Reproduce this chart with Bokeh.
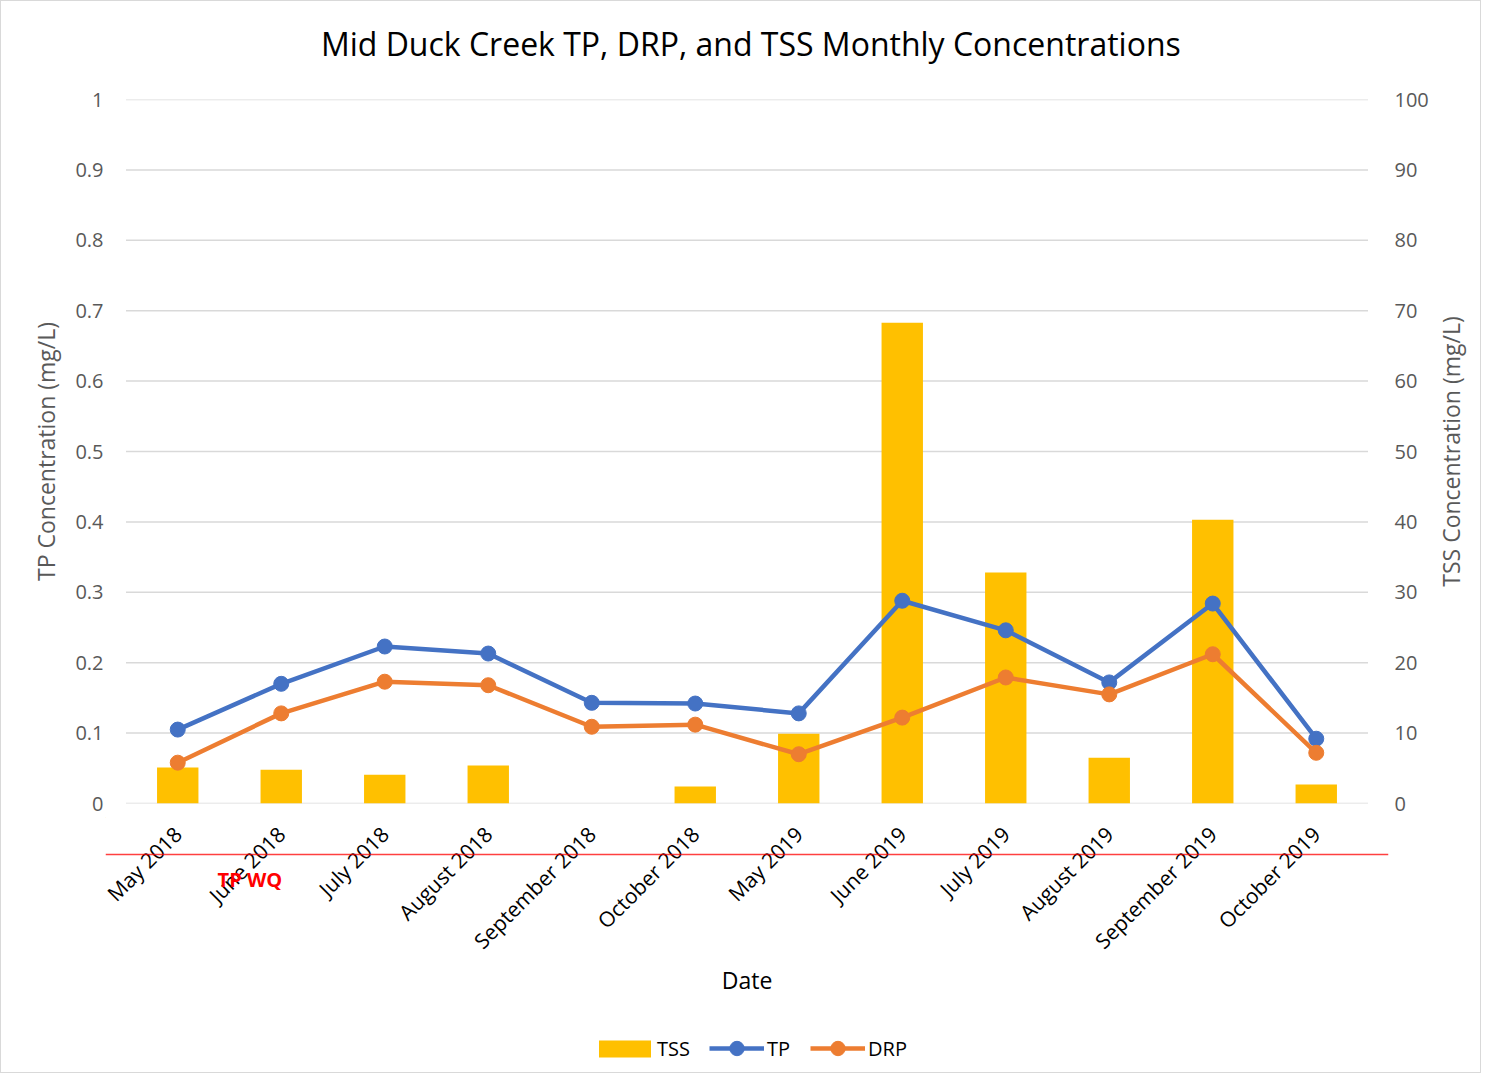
from bokeh.plotting import figure
from bokeh.models import (Range1d, LinearAxis, FixedTicker, CustomJSTickFormatter, Legend,
                          LegendItem, Span, Label, ColumnDataSource, FactorRange)
from bokeh.layouts import column, row
from bokeh.core.properties import value
from bokeh.embed import file_html
from bokeh.resources import INLINE
import math

months = ["May 2018", "June 2018", "July 2018", "August 2018", "September 2018", "October 2018",
          "May 2019", "June 2019", "July 2019", "August 2019", "September 2019", "October 2019"]
tp = [0.105, 0.170, 0.223, 0.213, 0.143, 0.142, 0.128, 0.288, 0.246, 0.172, 0.284, 0.092]
drp = [0.058, 0.128, 0.173, 0.168, 0.109, 0.112, 0.070, 0.122, 0.179, 0.155, 0.212, 0.072]
tss = [5.1, 4.8, 4.1, 5.4, 0.0, 2.4, 9.9, 68.3, 32.8, 6.5, 40.3, 2.7]
left_ticks = [0, 0.1, 0.2, 0.3, 0.4, 0.5, 0.6, 0.7, 0.8, 0.9, 1.0]
right_ticks = [0, 10, 20, 30, 40, 50, 60, 70, 80, 90, 100]
tp_wq_level = -0.0725   # red "TP WQ" line, drawn below the axis in the original

FONT = "Open Sans"
C_TSS, C_TP, C_DRP, C_GRID = "#FFC000", "#4472C4", "#ED7D31", "#D9D9D9"
src = ColumnDataSource(dict(month=months, tp=tp, drp=drp, tss=tss))
# a little padding so the red line and the first/last category labels fit in the frames
xr = FactorRange(*months, range_padding=0.198, range_padding_units="absolute")
ML, MR = 104, 42

# ---------------- title strip ----------------
t = figure(width=1430, height=84, x_range=Range1d(0, 1), y_range=Range1d(0, 1),
           output_backend="svg", toolbar_location=None, x_axis_location=None, y_axis_location=None,
           min_border_left=ML, min_border_right=MR, min_border_top=0, min_border_bottom=0)
t.outline_line_color = None
t.grid.visible = False
t.add_layout(Label(x=0.503, y=0.5, text="Mid Duck Creek TP, DRP, and TSS Monthly Concentrations",
                   text_font=FONT, text_font_size="32px", text_color="#000000",
                   text_align="center", text_baseline="middle"))

# ---------------- main plot ----------------
p = figure(width=1430, height=732, x_range=xr, y_range=Range1d(0, 1),
           output_backend="svg", toolbar_location=None, x_axis_location=None,
           min_border_left=ML, min_border_right=MR, min_border_top=14, min_border_bottom=14)
p.outline_line_color = None
p.extra_y_ranges = {"tss": Range1d(0, 100)}
p.grid.visible = False

# horizontal gridlines over the category span only
p.segment(x0=[0] * len(left_ticks), x1=[len(months)] * len(left_ticks), y0=left_ticks, y1=left_ticks,
          line_color=C_GRID, line_width=1.5)

p.vbar(x="month", top="tss", width=0.4, source=src, y_range_name="tss",
       fill_color=C_TSS, line_color=None)
p.line(x="month", y="tp", source=src, line_color=C_TP, line_width=4.5)
p.scatter(x="month", y="tp", source=src, size=15, fill_color=C_TP, line_color=C_TP)
p.line(x="month", y="drp", source=src, line_color=C_DRP, line_width=4.5)
p.scatter(x="month", y="drp", source=src, size=15, fill_color=C_DRP, line_color=C_DRP)

ya = p.yaxis[0]
ya.ticker = FixedTicker(ticks=left_ticks)
ya.formatter = CustomJSTickFormatter(code="return String(Math.round(tick*10)/10)")
ya.axis_label = "TP Concentration (mg/L)"

ra = LinearAxis(y_range_name="tss", ticker=FixedTicker(ticks=right_ticks))
p.add_layout(ra, "right")

for ax in (ya, ra):
    ax.axis_line_color = None
    ax.major_tick_line_color = None
    ax.minor_tick_line_color = None
    ax.major_tick_out = 0
    ax.minor_tick_out = 0
    ax.major_label_text_font = FONT
    ax.major_label_text_font_size = "20px"
    ax.major_label_text_color = "#595959"
ya.major_label_standoff = 2
ra.major_label_standoff = 6
ya.axis_label_text_font = FONT
ya.axis_label_text_font_size = "23px"
ya.axis_label_text_font_style = "normal"
ya.axis_label_text_color = "#595959"
ya.axis_label_standoff = 10

# ---------------- right strip: TSS axis title (reads bottom to top) ----------------
c = figure(width=49, height=1071, x_range=Range1d(0, 1), y_range=Range1d(0, 1),
           output_backend="svg", toolbar_location=None, x_axis_location=None, y_axis_location=None,
           min_border_left=0, min_border_right=0, min_border_top=98, min_border_bottom=269)
c.outline_line_color = None
c.grid.visible = False
c.add_layout(Label(x=0.4, y=0.5, text="TSS Concentration (mg/L)", angle=math.pi / 2,
                   text_font=FONT, text_font_size="23px", text_color="#595959",
                   text_align="center", text_baseline="middle"))

# ---------------- strip below: category labels, TP WQ line, axis title, legend ----------------
b = figure(width=1430, height=255, x_range=xr, y_range=Range1d(-0.3821, -0.0199),
           output_backend="svg", toolbar_location=None, x_axis_location=None, y_axis_location=None,
           min_border_left=ML, min_border_right=MR, min_border_top=0, min_border_bottom=0)
b.outline_line_color = None
b.grid.visible = False

b.text(x=months, y=[-0.038] * len(months), text=months, angle=math.pi / 4,
       text_align="right", text_baseline="middle", text_font=value(FONT),
       text_font_size="21px", text_color="#000000")

b.add_layout(Span(location=tp_wq_level, dimension="width", line_color="#FF0000",
                  line_alpha=0.75, line_width=1.5))
b.add_layout(Label(x=1.197, y=-0.108, text="TP WQ", text_color="#FF0000", text_font=FONT,
                   text_font_style="bold", text_font_size="20px", text_align="center",
                   text_baseline="middle"))
b.add_layout(Label(x=6.0, y=-0.2514, text="Date", text_color="#000000", text_font=FONT,
                   text_font_size="23px", text_align="center", text_baseline="middle"))

# legend keys: one point placed far outside this strip's visible area, so only the keys show
key = ColumnDataSource(dict(k=[-50.0], v=[5.0]))
lg_tss = b.vbar(x="k", top="v", bottom=4.0, width=0.4, source=key, fill_color=C_TSS, line_color=None)
lg_tp_l = b.line(x="k", y="v", source=key, line_color=C_TP, line_width=4.5)
lg_tp_s = b.scatter(x="k", y="v", source=key, size=15, fill_color=C_TP, line_color=C_TP)
lg_drp_l = b.line(x="k", y="v", source=key, line_color=C_DRP, line_width=4.5)
lg_drp_s = b.scatter(x="k", y="v", source=key, size=15, fill_color=C_DRP, line_color=C_DRP)


def style_legend(lg):
    lg.label_text_font = FONT
    lg.label_text_font_size = "20px"
    lg.label_text_color = "#000000"
    lg.padding = 5
    lg.margin = 0
    lg.border_line_color = None
    lg.background_fill_alpha = 0


leg1 = Legend(items=[LegendItem(label="TSS", renderers=[lg_tss])],
              orientation="horizontal", location=(487, 10))
style_legend(leg1)
leg1.glyph_width = 65
leg1.glyph_height = 21
leg1.label_standoff = 0

leg2 = Legend(items=[LegendItem(label="TP", renderers=[lg_tp_l, lg_tp_s]),
                     LegendItem(label="DRP", renderers=[lg_drp_l, lg_drp_s])],
              orientation="horizontal", location=(604, 6))
style_legend(leg2)
leg2.glyph_width = 55
leg2.glyph_height = 36
leg2.label_standoff = 3
leg2.spacing = 20

b.add_layout(leg1, "center")
b.add_layout(leg2, "center")

layout = row(column(t, p, b, spacing=0), c, spacing=0, styles={"border": "1px solid #D9D9D9"})
open("out.html", "w").write(file_html(layout, INLINE))
